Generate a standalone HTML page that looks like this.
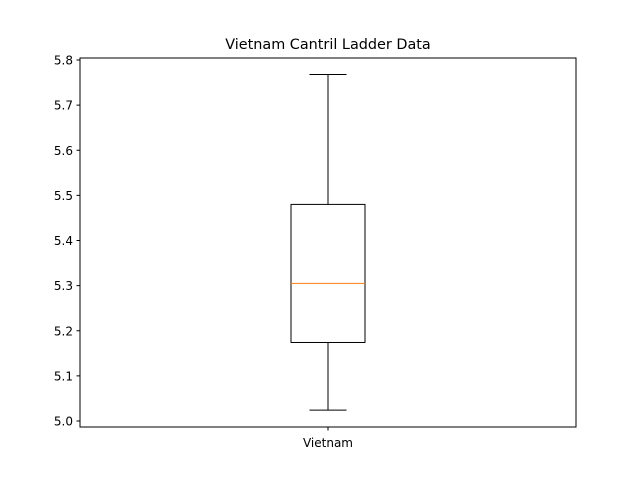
<!DOCTYPE html>
<html><head><meta charset="utf-8"><style>
body{margin:0;background:#fff}
svg{display:block;font-family:"DejaVu Sans","Liberation Sans",sans-serif}
</style></head><body>
<svg id="chart" width="640" height="480" viewBox="0 0 640 480">
<rect width="640" height="480" fill="#fff"/>
<text x="328" y="49" font-size="14.4" text-anchor="middle">Vietnam Cantril Ladder Data</text>
<g id="plot"></g>
<rect x="80" y="58" width="496" height="369" fill="none" stroke="#000" stroke-width="1"/>
</svg>
<script>
const categories = ["Vietnam"];
const whiskerLow = [5.024];
const q1 = [5.174];
const median = [5.305];
const q3 = [5.480];
const whiskerHigh = [5.768];
const yTicks = [5.0, 5.1, 5.2, 5.3, 5.4, 5.5, 5.6, 5.7, 5.8];

const NS = "http://www.w3.org/2000/svg";
const g = document.getElementById("plot");
function y(v){ return 421 - (v - 5.0) / 0.8 * 361; }
function x(i){ return 80 + (i + 0.5) / categories.length * 496; }
function el(tag, attrs){ const e = document.createElementNS(NS, tag); for (const k in attrs) e.setAttribute(k, attrs[k]); g.appendChild(e); return e; }

yTicks.forEach(t => {
  const ln = el("line", {x1: 76.5, x2: 80, y1: y(t), y2: y(t), stroke: "#000"});
  
  
  const tx = el("text", {x: 73, y: y(t) + 4.5, "font-size": 12, "text-anchor": "end"});
  tx.textContent = t.toFixed(1);
  
  
});

categories.forEach((c, i) => {
  const cx = x(i), hw = 37, cw = 18.5;
  const lw = el("line", {x1: cx, x2: cx, y1: y(q1[i]), y2: y(whiskerLow[i]), stroke: "#000"});
  
  
  const uw = el("line", {x1: cx, x2: cx, y1: y(q3[i]), y2: y(whiskerHigh[i]), stroke: "#000"});
  
  
  const lc = el("line", {x1: cx - cw, x2: cx + cw, y1: y(whiskerLow[i]), y2: y(whiskerLow[i]), stroke: "#000"});
  
  
  const uc = el("line", {x1: cx - cw, x2: cx + cw, y1: y(whiskerHigh[i]), y2: y(whiskerHigh[i]), stroke: "#000"});
  
  
  const bx = el("rect", {x: cx - hw, y: y(q3[i]), width: 2 * hw, height: y(q1[i]) - y(q3[i]), fill: "none", stroke: "#000"});
  
  
  const md = el("line", {x1: cx - hw, x2: cx + hw, y1: y(median[i]), y2: y(median[i]), stroke: "#ff7f0e"});
  
  
  const tk = el("line", {x1: cx, x2: cx, y1: 427, y2: 430.5, stroke: "#000"});
  
  
  const lb = el("text", {x: cx, y: 447, "font-size": 12, "text-anchor": "middle"});
  lb.textContent = c;
  
  
});
</script>
</body></html>
